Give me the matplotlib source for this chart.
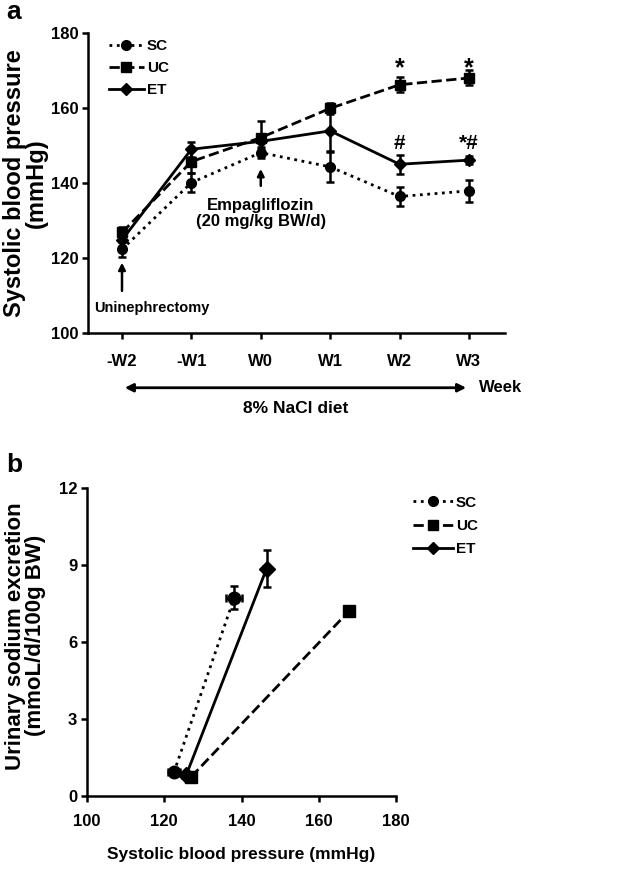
import numpy as np
import matplotlib
matplotlib.use("Agg")
import matplotlib.pyplot as plt
from matplotlib.lines import Line2D

plt.rcParams["font.family"] = ["Liberation Sans", "DejaVu Sans"]
plt.rcParams["font.weight"] = "bold"

# ── Panel a: SBP over time ────────────────────────────────────────────────────
weeks = ["-W2", "-W1", "W0", "W1", "W2", "W3"]
sc_sbp = [122.3, 140.1, 148.1, 144.3, 136.4, 137.9]
sc_err = [2.0, 2.5, 1.5, 4.0, 2.5, 3.0]
uc_sbp = [126.8, 145.7, 152.1, 159.9, 166.2, 168.0]
uc_err = [1.5, 3.0, 4.5, 1.5, 2.0, 2.0]
et_sbp = [124.8, 149.0, 151.1, 153.9, 145.0, 146.1]
et_err = [1.5, 2.0, 2.0, 5.5, 2.5, 1.0]

# ── Panel b: sodium excretion vs SBP (-W2, W3) ───────────────────────────────
sc_x = [122.5, 138.1]
sc_xerr = [1.5, 2.1]
sc_y = [0.92, 7.72]
sc_yerr = [0.1, 0.45]
uc_x = [127.0, 167.8]
uc_xerr = [1.0, 1.0]
uc_y = [0.75, 7.2]
uc_yerr = [0.1, 0.2]
et_x = [125.7, 146.5]
et_xerr = [1.0, 1.0]
et_y = [0.82, 8.86]
et_yerr = [0.1, 0.72]

fig = plt.figure(figsize=(6.29, 8.74), dpi=100)
W, H = 629, 874


def px_axes(left, top, right, bottom):
    return fig.add_axes([left / W, 1 - bottom / H, (right - left) / W, (bottom - top) / H])


series = [
    ("SC", ":", "o", 7),
    ("UC", "--", "s", 7),
    ("ET", "-", "D", 6),
]
handles = [Line2D([], [], color="black", ls=ls, lw=2, marker=mk, ms=ms, label=name)
           for name, ls, mk, ms in series]


def style_axes(a, xpad, ypad):
    a.tick_params(labelsize=12, width=1.8, length=4, direction="out")
    a.tick_params(axis="x", pad=xpad)
    a.tick_params(axis="y", pad=ypad)
    for lab in a.get_xticklabels() + a.get_yticklabels():
        lab.set_fontweight("bold")
    for s in ["top", "right"]:
        a.spines[s].set_visible(False)
    for s in ["left", "bottom"]:
        a.spines[s].set_linewidth(1.8)


ax = px_axes(88, 33, 505, 333)
x = np.arange(len(weeks))
for (name, ls, mk, ms), yv, ev in zip(series, [sc_sbp, uc_sbp, et_sbp], [sc_err, uc_err, et_err]):
    ax.errorbar(x, yv, yerr=ev, color="black", ls=ls, lw=2, marker=mk, ms=ms,
                capsize=3, elinewidth=1.8, capthick=1.8)

ax.set_xlim(-0.49, 5.52)
ax.set_ylim(100, 180)
ax.set_yticks([100, 120, 140, 160, 180])
ax.set_xticks(x)
ax.set_xticklabels(weeks)
style_axes(ax, 11, 3)
ax.set_ylabel("Systolic blood pressure\n(mmHg)", fontsize=17, fontweight="bold",
              linespacing=0.95)
ax.yaxis.set_label_coords(-0.096, 0.5)
ax.legend(handles=handles, loc="upper left", bbox_to_anchor=(0.05, 0.98), frameon=False,
          fontsize=11, handlelength=2.3, handletextpad=0.2, labelspacing=0.53,
          borderpad=0, borderaxespad=0)

# annotations
ax.annotate("", xy=(0, 119.5), xytext=(0, 110.5),
            arrowprops=dict(arrowstyle="-|>", color="black", lw=1.8, mutation_scale=10))
ax.text(-0.4, 106.6, "Uninephrectomy", fontsize=10.5, fontweight="bold", va="center", ha="left")
ax.annotate("", xy=(2, 144.5), xytext=(2, 138.5),
            arrowprops=dict(arrowstyle="-|>", color="black", lw=1.8, mutation_scale=10))
ax.text(2, 134.0, "Empagliflozin", fontsize=12, fontweight="bold", ha="center", va="center")
ax.text(2, 129.6, "(20 mg/kg BW/d)", fontsize=12, fontweight="bold", ha="center", va="center")
ax.text(4, 170.5, "*", fontsize=18, fontweight="bold", ha="center", va="center")
ax.text(5, 170.5, "*", fontsize=18, fontweight="bold", ha="center", va="center")
ax.text(4, 150.5, "#", fontsize=15, fontweight="bold", ha="center", va="center")
ax.text(5, 150.5, "*#", fontsize=15, fontweight="bold", ha="center", va="center")

# diet arrow below axis
ax.annotate("", xy=(5, 85.4), xytext=(0, 85.4), annotation_clip=False,
            arrowprops=dict(arrowstyle="<|-|>", color="black", lw=2, mutation_scale=12))
ax.text(5.15, 85.4, "Week", fontsize=12, fontweight="bold", va="center", ha="left", clip_on=False)
ax.text(2.5, 79.8, "8% NaCl diet", fontsize=12.5, fontweight="bold", va="center", ha="center", clip_on=False)

fig.text(6 / W, 1 - 12 / H, "a", fontsize=19, fontweight="bold", va="center")

# ── panel b ──
bx = px_axes(87, 488, 396, 796)
for (name, ls, mk, ms), xv, xe, yv, ye in zip(
        series,
        [sc_x, uc_x, et_x], [sc_xerr, uc_xerr, et_xerr],
        [sc_y, uc_y, et_y], [sc_yerr, uc_yerr, et_yerr]):
    bx.errorbar(xv, yv, xerr=xe, yerr=ye, color="black", ls=ls, lw=2, marker=mk, ms=ms + 2,
                capsize=3, elinewidth=1.8, capthick=1.8)

bx.set_xlim(100, 180)
bx.set_ylim(0, 12)
bx.set_xticks([100, 120, 140, 160, 180])
bx.set_yticks([0, 3, 6, 9, 12])
style_axes(bx, 9, 3)
bx.set_ylabel("Urinary sodium excretion\n(mmoL/d/100g BW)", fontsize=16, fontweight="bold",
              linespacing=0.95)
bx.yaxis.set_label_coords(-0.133, 0.52)
bx.set_xlabel("Systolic blood pressure (mmHg)", fontsize=12.5, fontweight="bold")
bx.xaxis.set_label_coords(0.5, -0.165)
bx.legend(handles=handles, loc="upper left", bbox_to_anchor=(1.055, 0.975), frameon=False,
          fontsize=11, handlelength=2.6, handletextpad=0.2, labelspacing=0.6,
          borderpad=0, borderaxespad=0)

fig.text(6 / W, 1 - 465 / H, "b", fontsize=19, fontweight="bold", va="center")

fig.savefig("out.png", dpi=100)
